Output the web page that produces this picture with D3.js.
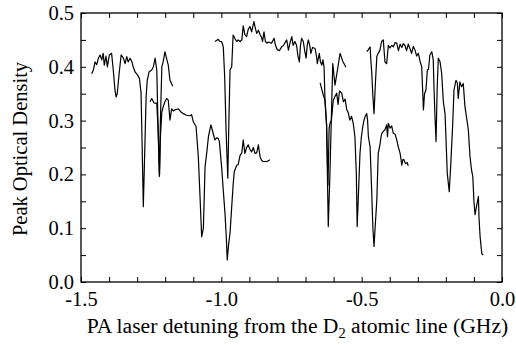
<!DOCTYPE html>
<html>
<head>
<meta charset="utf-8">
<script src="https://cdn.jsdelivr.net/npm/d3@7"></script>
<style>
  body { margin: 0; background: #fff; }
  svg text { font-family: "Liberation Serif", "Times New Roman", serif; fill: #000; }
</style>
</head>
<body>
<div id="chart"></div>
<script>
// PA scans, detuning (GHz) vs peak optical density
const scanA_x = [-1.462,-1.456,-1.450,-1.444,-1.438,-1.432,-1.426,-1.421,-1.417,-1.411,-1.406,-1.399,-1.391,-1.385,-1.379,-1.375,-1.371,-1.364,-1.357,-1.349,-1.343,-1.337,-1.332,-1.325,-1.319,-1.314,-1.308,-1.299,-1.292,-1.286,-1.282,-1.278,-1.274,-1.268,-1.264,-1.257,-1.248,-1.242,-1.236,-1.230,-1.226,-1.221,-1.217,-1.212,-1.207,-1.201,-1.195,-1.189,-1.183,-1.173];
const scanA_y = [0.387,0.394,0.409,0.404,0.416,0.422,0.413,0.425,0.403,0.420,0.400,0.422,0.425,0.394,0.357,0.344,0.350,0.388,0.422,0.416,0.406,0.419,0.409,0.416,0.410,0.400,0.391,0.385,0.379,0.351,0.250,0.140,0.220,0.344,0.375,0.391,0.394,0.400,0.416,0.394,0.300,0.196,0.300,0.400,0.410,0.428,0.415,0.403,0.375,0.364];

const scanB_x = [-1.254,-1.248,-1.240,-1.230,-1.225,-1.220,-1.217,-1.212,-1.207,-1.201,-1.195,-1.189,-1.183,-1.177,-1.171,-1.165,-1.153,-1.144,-1.136,-1.124,-1.112,-1.106,-1.100,-1.090,-1.082,-1.076,-1.070,-1.064,-1.058,-1.052,-1.046,-1.037,-1.029,-1.023,-1.017,-1.011,-1.007,-0.999,-0.993,-0.987,-0.982,-0.979,-0.974,-0.969,-0.963,-0.958,-0.954,-0.945,-0.940,-0.933,-0.927,-0.922,-0.916,-0.910,-0.904,-0.898,-0.892,-0.886,-0.880,-0.874,-0.868,-0.862,-0.856,-0.851,-0.838,-0.827];
const scanB_y = [0.335,0.341,0.333,0.332,0.280,0.200,0.270,0.316,0.326,0.335,0.341,0.338,0.301,0.322,0.318,0.320,0.322,0.316,0.313,0.310,0.309,0.311,0.298,0.289,0.233,0.160,0.084,0.100,0.214,0.240,0.270,0.292,0.276,0.264,0.268,0.267,0.261,0.214,0.170,0.128,0.080,0.041,0.070,0.091,0.140,0.180,0.205,0.217,0.218,0.236,0.240,0.264,0.239,0.250,0.255,0.246,0.242,0.250,0.239,0.240,0.255,0.233,0.226,0.224,0.224,0.227];

const scanC_x = [-1.023,-1.017,-1.011,-1.005,-0.999,-0.993,-0.988,-0.983,-0.977,-0.973,-0.969,-0.963,-0.958,-0.951,-0.945,-0.940,-0.933,-0.927,-0.922,-0.916,-0.910,-0.904,-0.898,-0.892,-0.884,-0.878,-0.874,-0.868,-0.862,-0.857,-0.853,-0.848,-0.843,-0.838,-0.832,-0.827,-0.821,-0.812,-0.807,-0.801,-0.793,-0.785,-0.778,-0.773,-0.767,-0.761,-0.755,-0.749,-0.744,-0.738,-0.732,-0.727,-0.722,-0.718,-0.714,-0.708,-0.703,-0.698,-0.694,-0.690,-0.685,-0.681,-0.675,-0.666,-0.661,-0.658,-0.651,-0.647,-0.642,-0.638,-0.634,-0.631,-0.625,-0.619,-0.613,-0.607,-0.603,-0.595,-0.586,-0.577,-0.567,-0.556];
const scanC_y = [0.447,0.449,0.451,0.447,0.447,0.437,0.380,0.280,0.193,0.300,0.394,0.400,0.459,0.452,0.447,0.450,0.447,0.450,0.476,0.460,0.456,0.470,0.475,0.465,0.484,0.470,0.462,0.468,0.460,0.455,0.447,0.465,0.447,0.444,0.446,0.445,0.444,0.453,0.440,0.432,0.430,0.437,0.440,0.445,0.450,0.431,0.445,0.456,0.440,0.447,0.440,0.420,0.409,0.440,0.453,0.447,0.430,0.416,0.440,0.450,0.440,0.425,0.436,0.434,0.420,0.406,0.425,0.410,0.403,0.413,0.400,0.344,0.292,0.103,0.202,0.326,0.406,0.366,0.395,0.425,0.410,0.399];

const scanD_x = [-0.648,-0.643,-0.637,-0.631,-0.625,-0.620,-0.616,-0.613,-0.608,-0.601,-0.595,-0.589,-0.584,-0.579,-0.571,-0.565,-0.559,-0.553,-0.548,-0.542,-0.536,-0.530,-0.524,-0.519,-0.516,-0.511,-0.506,-0.501,-0.496,-0.492,-0.488,-0.482,-0.479,-0.476,-0.470,-0.465,-0.460,-0.456,-0.451,-0.446,-0.441,-0.435,-0.429,-0.423,-0.417,-0.411,-0.408,-0.405,-0.399,-0.393,-0.387,-0.381,-0.375,-0.369,-0.363,-0.357,-0.353,-0.349,-0.344,-0.338,-0.334];
const scanD_y = [0.370,0.360,0.348,0.338,0.292,0.180,0.285,0.295,0.300,0.338,0.345,0.351,0.330,0.355,0.351,0.335,0.340,0.320,0.315,0.301,0.308,0.295,0.270,0.200,0.103,0.170,0.239,0.270,0.289,0.300,0.307,0.313,0.301,0.270,0.251,0.180,0.100,0.066,0.110,0.152,0.239,0.255,0.276,0.280,0.283,0.292,0.270,0.295,0.286,0.290,0.276,0.275,0.264,0.250,0.239,0.217,0.228,0.227,0.220,0.222,0.216];

const scanE_x = [-0.482,-0.476,-0.470,-0.467,-0.464,-0.460,-0.456,-0.451,-0.446,-0.441,-0.435,-0.429,-0.423,-0.417,-0.411,-0.405,-0.399,-0.393,-0.387,-0.381,-0.375,-0.369,-0.363,-0.357,-0.352,-0.346,-0.340,-0.334,-0.328,-0.322,-0.316,-0.310,-0.304,-0.298,-0.292,-0.286,-0.283,-0.280,-0.276,-0.271,-0.266,-0.262,-0.257,-0.250,-0.245,-0.242,-0.239,-0.235,-0.231,-0.227,-0.221,-0.215,-0.209,-0.203,-0.200,-0.195,-0.188,-0.183,-0.176,-0.171,-0.164,-0.159,-0.156,-0.150,-0.144,-0.138,-0.132,-0.126,-0.120,-0.114,-0.109,-0.104,-0.100,-0.096,-0.091,-0.084,-0.082,-0.078,-0.072,-0.067];
const scanE_y = [0.428,0.432,0.437,0.410,0.388,0.345,0.313,0.370,0.419,0.425,0.431,0.447,0.450,0.409,0.406,0.440,0.435,0.440,0.437,0.445,0.444,0.430,0.442,0.436,0.443,0.440,0.430,0.442,0.434,0.425,0.438,0.431,0.420,0.425,0.410,0.400,0.360,0.320,0.350,0.357,0.394,0.395,0.422,0.428,0.413,0.357,0.310,0.261,0.360,0.416,0.410,0.388,0.335,0.313,0.273,0.202,0.168,0.214,0.289,0.357,0.375,0.370,0.341,0.372,0.363,0.369,0.326,0.305,0.283,0.233,0.210,0.196,0.150,0.125,0.140,0.159,0.120,0.084,0.053,0.050];

const xTickLabels = [-1.5, -1.0, -0.5, 0.0];
const yTickLabels = [0.0, 0.1, 0.2, 0.3, 0.4, 0.5];

const scans = [
  [scanA_x, scanA_y], [scanB_x, scanB_y], [scanC_x, scanC_y],
  [scanD_x, scanD_y], [scanE_x, scanE_y]
];

const serif = '"Liberation Serif", "Times New Roman", serif';
const width = 516, height = 345;
const margin = { top: 13, right: 14, bottom: 63, left: 81 };
const iw = width - margin.left - margin.right;
const ih = height - margin.top - margin.bottom;

const svg = d3.select("#chart").append("svg")
  .attr("width", width)
  .attr("height", height);

const g = svg.append("g")
  .attr("transform", `translate(${margin.left},${margin.top})`);

const x = d3.scaleLinear().domain([-1.5, 0]).range([0, iw]);
const y = d3.scaleLinear().domain([0, 0.5]).range([ih, 0]);

const xMinor = d3.range(-15, 1).map(i => i / 10);
const yMinor = d3.range(0, 11).map(i => i / 20);
const isLabelX = v => xTickLabels.some(t => Math.abs(t - v) < 1e-9);
const isLabelY = v => yTickLabels.some(t => Math.abs(t - v) < 1e-9);

// inward ticks on all four sides
g.append("g")
  .attr("transform", `translate(0,${ih})`)
  .call(d3.axisBottom(x).tickValues(xMinor).tickSizeInner(-5).tickSizeOuter(0).tickPadding(9)
    .tickFormat(v => isLabelX(v) ? d3.format(".1f")(v).replace("−", "-") : ""));
g.append("g")
  .call(d3.axisTop(x).tickValues(xMinor).tickSizeInner(-5).tickSizeOuter(0).tickFormat(""));
g.append("g")
  .call(d3.axisLeft(y).tickValues(yMinor).tickSizeInner(-5).tickSizeOuter(0).tickPadding(7)
    .tickFormat(v => isLabelY(v) ? d3.format(".1f")(v) : ""));
g.append("g")
  .attr("transform", `translate(${iw},0)`)
  .call(d3.axisRight(y).tickValues(yMinor).tickSizeInner(-5).tickSizeOuter(0).tickFormat(""));

g.selectAll(".domain").remove();
g.selectAll(".tick line").attr("stroke", "#000").attr("stroke-width", 1);
g.selectAll(".tick text")
  .attr("font-family", serif)
  .style("font-family", serif)
  .style("font-size", "20.5px");

g.append("rect")
  .attr("width", iw).attr("height", ih)
  .attr("fill", "none").attr("stroke", "#000").attr("stroke-width", 1.3);

const line = d3.line()
  .x(d => x(d[0]))
  .y(d => y(d[1]));

g.selectAll("path.scan")
  .data(scans.map(([xs, ys]) => d3.zip(xs, ys)))
  .enter()
  .append("path")
  .attr("class", "scan")
  .attr("d", line)
  .attr("fill", "none")
  .attr("stroke", "#000")
  .attr("stroke-width", 1.2)
  .attr("stroke-linejoin", "round");

// axis titles
const xt = svg.append("text")
  .attr("x", 297.5).attr("y", 333)
  .attr("text-anchor", "middle")
  .style("font-family", serif)
  .style("font-size", "21.6px");
xt.append("tspan").text("PA laser detuning from the D");
xt.append("tspan").attr("dy", 5).style("font-size", "14.5px").text("2");
xt.append("tspan").attr("dy", -5).text(" atomic line (GHz)");

svg.append("text")
  .attr("transform", "translate(27,149) rotate(-90)")
  .attr("text-anchor", "middle")
  .style("font-family", serif)
  .style("font-size", "20.5px")
  .text("Peak Optical Density");
</script>
</body>
</html>
